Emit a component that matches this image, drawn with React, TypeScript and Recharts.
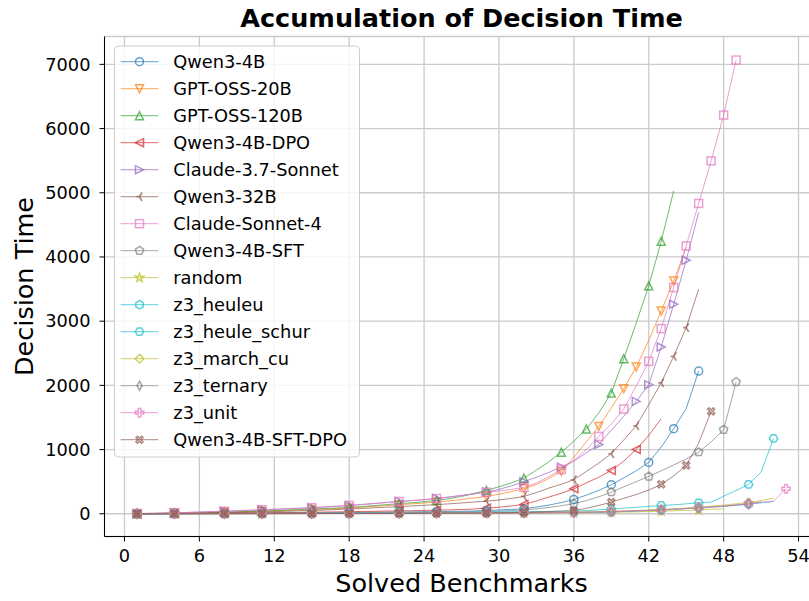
import React from 'react'
import { LineChart, Line, XAxis, YAxis, CartesianGrid } from 'recharts'

// cumulative decision time per solved benchmark (x = 1..N)
const qwen3_4b = [0, 1, 2, 3, 4, 5, 6, 7, 8, 9, 10, 11, 12, 13, 14, 16, 18, 20, 22, 24, 26, 28, 30, 32, 34, 37, 40, 44, 50, 60, 68, 78, 105, 135, 175, 223, 290, 365, 452, 560, 670, 800, 1040, 1325, 1637, 2223]
const gptOss20b = [0, 2, 5, 8, 11, 14, 18, 23, 28, 33, 39, 45, 51, 58, 65, 73, 81, 90, 102, 115, 128, 142, 155, 168, 182, 200, 222, 246, 272, 305, 345, 390, 455, 550, 660, 880, 1120, 1361, 1650, 1949, 2286, 2700, 3159, 3627, 4150]
const gptOss120b = [0, 3, 6, 9, 13, 17, 21, 26, 31, 37, 44, 50, 57, 65, 73, 82, 91, 100, 113, 127, 142, 158, 172, 188, 207, 235, 270, 315, 365, 420, 480, 555, 680, 810, 960, 1130, 1320, 1570, 1880, 2416, 2972, 3550, 4245, 5030]
const qwen3_4bDpo = [0, 1, 2, 3, 4, 5, 7, 9, 11, 13, 15, 17, 19, 21, 24, 27, 30, 33, 36, 39, 42, 45, 48, 52, 56, 61, 67, 75, 87, 102, 122, 145, 200, 260, 320, 390, 480, 570, 675, 820, 1002, 1220, 1481]
const claude37 = [3, 7, 11, 15, 21, 27, 33, 40, 47, 54, 62, 70, 78, 86, 94, 106, 117, 129, 144, 160, 176, 192, 206, 220, 240, 262, 287, 312, 340, 380, 435, 500, 570, 645, 727, 820, 950, 1080, 1300, 1520, 1751, 2011, 2598, 3263, 3949, 4693]
const qwen3_32b = [0, 2, 3, 5, 7, 9, 12, 16, 20, 24, 29, 34, 39, 45, 51, 58, 66, 74, 83, 93, 103, 113, 122, 132, 142, 155, 168, 182, 196, 215, 240, 270, 330, 400, 460, 530, 660, 790, 935, 1150, 1370, 1700, 2040, 2452, 2900, 3500]
const claudeSonnet4 = [2, 6, 10, 14, 20, 26, 33, 40, 47, 55, 62, 70, 78, 86, 95, 106, 118, 130, 145, 160, 176, 192, 206, 220, 238, 258, 282, 308, 335, 355, 380, 410, 480, 580, 690, 830, 1000, 1205, 1400, 1631, 1990, 2374, 2884, 3524, 4172, 4833, 5497, 6210, 7067]
const qwen3_4bSft = [0, 0, 1, 1, 2, 2, 3, 3, 4, 4, 5, 6, 7, 8, 9, 10, 11, 12, 13, 14, 15, 16, 18, 20, 22, 25, 28, 31, 35, 42, 50, 60, 78, 98, 125, 156, 205, 265, 337, 420, 500, 582, 670, 760, 855, 960, 1120, 1310, 2052]
const random = [0, 0, 0, 1, 1, 1, 1, 2, 2, 2, 2, 3, 3, 3, 3, 4, 4, 4, 5, 5, 5, 6, 6, 6, 7, 7, 7, 8, 8, 9, 9, 10, 11, 12, 13, 14, 15, 17, 22, 26, 30, 35, 40, 46, 53, 60, 70, 78]
const z3Heuleu = [0, 0, 1, 1, 1, 2, 2, 2, 3, 3, 3, 4, 4, 4, 5, 5, 6, 6, 7, 7, 8, 8, 9, 9, 10, 10, 11, 12, 12, 13, 14, 15, 16, 17, 18, 20, 23, 26, 30, 36, 44, 52, 60, 72, 84, 95, 108, 120, 135, 150, 170, 192]
const z3HeuleSchur = [0, 1, 1, 2, 2, 3, 3, 4, 5, 5, 6, 7, 8, 9, 10, 11, 12, 13, 14, 15, 16, 17, 18, 19, 20, 22, 24, 26, 28, 30, 32, 34, 35, 37, 38, 40, 50, 62, 75, 88, 100, 115, 129, 140, 155, 171, 181, 274, 363, 457, 649, 1174]
const z3MarchCu = [0, 0, 1, 1, 1, 1, 2, 2, 2, 3, 3, 3, 4, 4, 4, 5, 5, 5, 6, 6, 7, 7, 8, 8, 9, 9, 10, 11, 12, 13, 14, 15, 17, 19, 22, 25, 29, 34, 40, 46, 53, 59, 65, 76, 88, 100, 118, 135, 155, 175, 205, 243]
const z3Ternary = [0, 0, 0, 1, 1, 1, 2, 2, 2, 2, 3, 3, 3, 4, 4, 4, 5, 5, 5, 6, 6, 7, 7, 8, 8, 9, 9, 10, 11, 12, 13, 14, 15, 16, 18, 20, 24, 28, 33, 38, 44, 51, 58, 68, 79, 90, 102, 115, 132, 150, 185]
const z3Unit = [0, 0, 1, 1, 1, 2, 2, 2, 3, 3, 3, 4, 4, 5, 5, 5, 6, 6, 7, 7, 8, 8, 9, 9, 10, 10, 11, 11, 12, 13, 14, 15, 16, 17, 19, 22, 25, 28, 32, 38, 45, 53, 62, 72, 83, 94, 108, 122, 140, 160, 178, 196, 390]
const qwen3_4bSftDpo = [0, 0, 0, 1, 1, 1, 1, 2, 2, 2, 3, 3, 3, 4, 4, 4, 5, 5, 5, 6, 6, 7, 7, 8, 8, 9, 10, 11, 12, 15, 18, 22, 28, 35, 42, 51, 85, 130, 181, 240, 300, 370, 457, 590, 753, 1100, 1595]

const xTicks = [0, 6, 12, 18, 24, 30, 36, 42, 48, 54]
const yTicks = [0, 1000, 2000, 3000, 4000, 5000, 6000, 7000]

type Shape = 'o' | 'v' | '^' | '<' | '>' | '3' | 's' | 'p' | '*' | 'h' | 'H' | 'D' | 'd' | 'P' | 'X'

const series: { name: string; values: number[]; color: string; marker: Shape }[] = [
  { name: 'Qwen3-4B', values: qwen3_4b, color: '#1f77b4', marker: 'o' },
  { name: 'GPT-OSS-20B', values: gptOss20b, color: '#ff7f0e', marker: 'v' },
  { name: 'GPT-OSS-120B', values: gptOss120b, color: '#2ca02c', marker: '^' },
  { name: 'Qwen3-4B-DPO', values: qwen3_4bDpo, color: '#d62728', marker: '<' },
  { name: 'Claude-3.7-Sonnet', values: claude37, color: '#9467bd', marker: '>' },
  { name: 'Qwen3-32B', values: qwen3_32b, color: '#8c564b', marker: '3' },
  { name: 'Claude-Sonnet-4', values: claudeSonnet4, color: '#e377c2', marker: 's' },
  { name: 'Qwen3-4B-SFT', values: qwen3_4bSft, color: '#7f7f7f', marker: 'p' },
  { name: 'random', values: random, color: '#bcbd22', marker: '*' },
  { name: 'z3_heuleu', values: z3Heuleu, color: '#17becf', marker: 'h' },
  { name: 'z3_heule_schur', values: z3HeuleSchur, color: '#17becf', marker: 'H' },
  { name: 'z3_march_cu', values: z3MarchCu, color: '#bcbd22', marker: 'D' },
  { name: 'z3_ternary', values: z3Ternary, color: '#7f7f7f', marker: 'd' },
  { name: 'z3_unit', values: z3Unit, color: '#e377c2', marker: 'P' },
  { name: 'Qwen3-4B-SFT-DPO', values: qwen3_4bSftDpo, color: '#8c564b', marker: 'X' },
]

const FONT = '"DejaVu Sans", sans-serif'
const CHART_W = 840
const CHART_H = 601
const PLOT = { left: 104.5, top: 36.5, width: 714, height: 500 }
const X_DOMAIN: [number, number] = [-1.6, 55.6]
const Y_DOMAIN: [number, number] = [-354, 7434]
const ALPHA = 0.7

// matplotlib-style float markevery: markers at equal distances along the drawn line
const pxX = PLOT.width / (X_DOMAIN[1] - X_DOMAIN[0])
const pxY = PLOT.height / (Y_DOMAIN[1] - Y_DOMAIN[0])
const diag = Math.hypot(PLOT.width, PLOT.height)

function markerIndices(values: number[], every = 0.05) {
  const d = [0]
  for (let i = 1; i < values.length; i++) {
    d.push(d[i - 1] + Math.hypot(pxX, (values[i] - values[i - 1]) * pxY))
  }
  const step = every * diag
  const out = new Set<number>()
  for (let t = 0; t < d[d.length - 1]; t += step) {
    let best = 0
    let bd = Infinity
    d.forEach((v, i) => {
      const e = Math.abs(v - t)
      if (e < bd) {
        bd = e
        best = i
      }
    })
    out.add(best)
  }
  return out
}

const poly = (cx: number, cy: number, pts: number[][]) =>
  pts.map(([dx, dy]) => `${cx + dx},${cy + dy}`).join(' ')

const ngon = (n: number, r: number, rot: number) =>
  Array.from({ length: n }, (_, k) => {
    const a = rot + (k * 2 * Math.PI) / n
    return [r * Math.sin(a), -r * Math.cos(a)]
  })

function Marker({ cx, cy, shape, color }: { cx: number; cy: number; shape: Shape; color: string }) {
  const st = { fill: 'none', stroke: color, strokeWidth: 1.5, strokeOpacity: ALPHA }
  const s = 4
  switch (shape) {
    case 'o':
      return <circle cx={cx} cy={cy} r={4} {...st} />
    case 'v':
      return <polygon points={poly(cx, cy, [[0, s], [-s, -s], [s, -s]])} {...st} />
    case '^':
      return <polygon points={poly(cx, cy, [[0, -s], [-s, s], [s, s]])} {...st} />
    case '<':
      return <polygon points={poly(cx, cy, [[-s, 0], [s, -s], [s, s]])} {...st} />
    case '>':
      return <polygon points={poly(cx, cy, [[s, 0], [-s, -s], [-s, s]])} {...st} />
    case '3': {
      const r = 5
      return (
        <path
          d={`M${cx},${cy}L${cx - r * 0.6},${cy}M${cx},${cy}L${cx + r * 0.5},${cy - r * 0.866}M${cx},${cy}L${cx + r * 0.5},${cy + r * 0.866}`}
          {...st}
          strokeWidth={1.7}
        />
      )
    }
    case 's':
      return <rect x={cx - 4} y={cy - 4} width={8} height={8} {...st} />
    case 'p':
      return <polygon points={poly(cx, cy, ngon(5, 4.3, 0))} {...st} />
    case '*': {
      const pts = Array.from({ length: 10 }, (_, k) => {
        const r = k % 2 === 0 ? 4.6 : 1.9
        const a = (k * Math.PI) / 5
        return [r * Math.sin(a), -r * Math.cos(a)]
      })
      return <polygon points={poly(cx, cy, pts)} {...st} />
    }
    case 'h':
      return <polygon points={poly(cx, cy, ngon(6, 4.2, 0))} {...st} />
    case 'H':
      return <polygon points={poly(cx, cy, ngon(6, 4.2, Math.PI / 6))} {...st} />
    case 'D':
      return <polygon points={poly(cx, cy, [[0, -4.3], [4.3, 0], [0, 4.3], [-4.3, 0]])} {...st} />
    case 'd':
      return <polygon points={poly(cx, cy, [[0, -4.5], [2.6, 0], [0, 4.5], [-2.6, 0]])} {...st} />
    case 'P': {
      const a = 1.4
      const b = 4.2
      return (
        <polygon
          points={poly(cx, cy, [[-a, -b], [a, -b], [a, -a], [b, -a], [b, a], [a, a], [a, b], [-a, b], [-a, a], [-b, a], [-b, -a], [-a, -a]])}
          {...st}
        />
      )
    }
    case 'X': {
      const pts = [[0, -1.4], [2.1, -3.5], [3.5, -2.1], [1.4, 0], [3.5, 2.1], [2.1, 3.5], [0, 1.4], [-2.1, 3.5], [-3.5, 2.1], [-1.4, 0], [-3.5, -2.1], [-2.1, -3.5]]
      return <polygon points={poly(cx, cy, pts)} {...st} />
    }
  }
  return null
}

const tickStyle = { fill: '#000', fontSize: 17.8, fontFamily: FONT }

export default function App() {
  return (
    <div
      style={{ position: 'fixed', left: 0, top: 0, width: 809, height: 601, overflow: 'hidden', background: '#fff' }}
    >
      <LineChart
        width={CHART_W}
        height={CHART_H}
        margin={{
          top: PLOT.top,
          left: PLOT.left - 70,
          right: CHART_W - PLOT.left - PLOT.width,
          bottom: 0,
        }}
      >
        <CartesianGrid stroke="#cbcbcb" strokeWidth={1.3} />
        <XAxis
          dataKey="x"
          type="number"
          domain={X_DOMAIN}
          ticks={xTicks}
          allowDataOverflow
          height={CHART_H - PLOT.top - PLOT.height}
          stroke="#000"
          tick={tickStyle}
          tickSize={5}
          tickMargin={8}
          interval={0}
        />
        <XAxis
          xAxisId="top"
          orientation="top"
          dataKey="x"
          type="number"
          domain={X_DOMAIN}
          allowDataOverflow
          height={0}
          tick={false}
          tickLine={false}
          stroke="#000"
        />
        <YAxis
          type="number"
          domain={Y_DOMAIN}
          ticks={yTicks}
          allowDataOverflow
          width={70}
          stroke="#000"
          tick={tickStyle}
          tickSize={5}
          tickMargin={9}
          interval={0}
        />
        {series.map((s) => {
          const marks = markerIndices(s.values)
          const data = s.values.map((v, i) => ({ x: i + 1, y: v }))
          return (
            <Line
              key={s.name}
              data={data}
              dataKey="y"
              name={s.name}
              type="linear"
              stroke={s.color}
              strokeWidth={1}
              strokeOpacity={ALPHA}
              isAnimationActive={false}
              activeDot={false}
              dot={(p: any) =>
                marks.has(p.index) ? (
                  <Marker key={`${s.name}-${p.index}`} cx={p.cx} cy={p.cy} shape={s.marker} color={s.color} />
                ) : (
                  <g key={`${s.name}-${p.index}`} />
                )
              }
            />
          )
        })}
      </LineChart>
      <svg
        width={809}
        height={601}
        style={{ position: 'absolute', left: 0, top: 0, pointerEvents: 'none' }}
      >
        <text x={461.5} y={27} textAnchor="middle" fontFamily={FONT} fontWeight="bold" fontSize={25.5} fill="#000">
          Accumulation of Decision Time
        </text>
        <text x={461.5} y={592} textAnchor="middle" fontFamily={FONT} fontSize={25.5} fill="#000">
          Solved Benchmarks
        </text>
        <text
          x={33}
          y={286.5}
          textAnchor="middle"
          fontFamily={FONT}
          fontSize={25.5}
          fill="#000"
          transform="rotate(-90 33 286.5)"
        >
          Decision Time
        </text>
        <rect x={114.5} y={46} width={245} height={411} rx={4} fill="#fff" fillOpacity={0.8} stroke="#cccccc" strokeWidth={1} />
        {series.map((s, i) => {
          const y = 61.7 + 27 * i
          return (
            <g key={s.name}>
              <line x1={120.7} x2={158.3} y1={y} y2={y} stroke={s.color} strokeWidth={1} strokeOpacity={ALPHA} />
              <Marker cx={139.5} cy={y} shape={s.marker} color={s.color} />
              <text x={173.3} y={y} dy="0.36em" fontFamily={FONT} fontSize={17.8} fill="#000">
                {s.name}
              </text>
            </g>
          )
        })}
      </svg>
    </div>
  )
}
